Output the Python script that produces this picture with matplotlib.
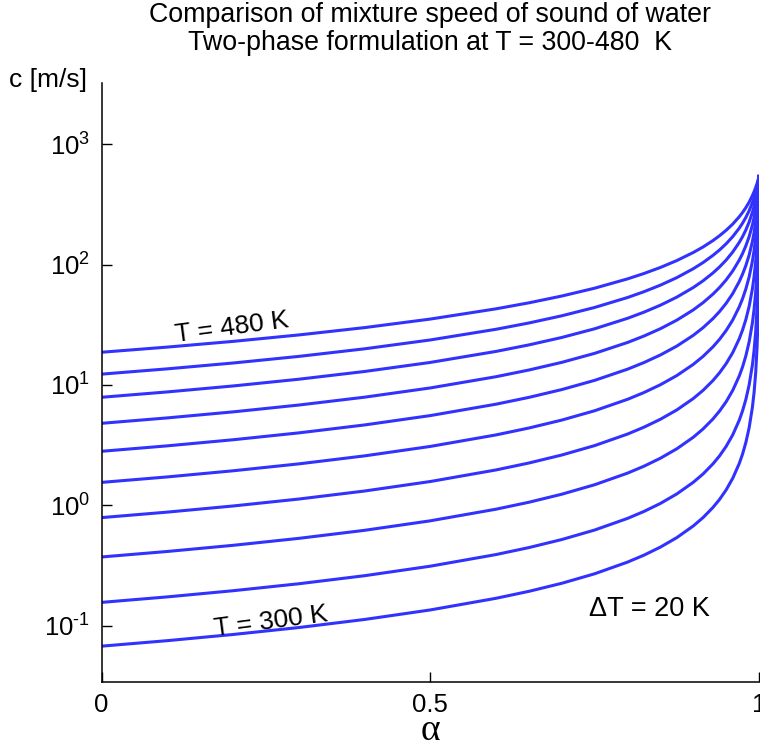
import matplotlib
matplotlib.use("Agg")
import matplotlib.pyplot as plt
from matplotlib.ticker import NullLocator, FixedLocator

plt.rcParams['font.family'] = ['Liberation Sans', 'DejaVu Sans']
plt.rcParams['mathtext.fontset'] = 'custom'
plt.rcParams['mathtext.rm'] = 'Liberation Sans'
plt.rcParams['mathtext.it'] = 'Liberation Sans:italic'

# void fraction alpha
alpha = [0, 0.1, 0.2, 0.3, 0.4, 0.5, 0.6, 0.65, 0.7, 0.75, 0.8, 0.825, 0.85, 0.875,
         0.9, 0.915, 0.93, 0.94, 0.95, 0.96, 0.97, 0.975, 0.98, 0.985, 0.99,
         0.9925, 0.995, 0.997, 0.998, 0.999, 1.0]

temperatures = [300, 320, 340, 360, 380, 400, 420, 440, 460, 480]

# mixture speed of sound c [m/s] for each temperature
c_300 = [0.0675, 0.0750, 0.0844, 0.0964, 0.1125, 0.135, 0.1687, 0.1927, 0.2248, 0.2697,
         0.3371, 0.3851, 0.4492, 0.5388, 0.673, 0.7914, 0.960, 1.119, 1.342, 1.675,
         2.227, 2.667, 3.324, 4.409, 6.55, 8.64, 12.72, 20.4, 29.4, 52.6, 540]
c_320 = [0.156, 0.1733, 0.1950, 0.2228, 0.2599, 0.3118, 0.3896, 0.4452, 0.5193, 0.6229,
         0.778, 0.8889, 1.036, 1.243, 1.552, 1.823, 2.211, 2.575, 3.084, 3.844,
         5.10, 6.10, 7.58, 10.00, 14.7, 19.3, 27.9, 43.7, 61.1, 102.7, 540]
c_340 = [0.372, 0.4133, 0.4648, 0.5311, 0.6194, 0.7430, 0.928, 1.060, 1.236, 1.482,
         1.850, 2.112, 2.461, 2.948, 3.674, 4.313, 5.219, 6.069, 7.251, 9.004,
         11.88, 14.13, 17.45, 22.79, 32.9, 42.3, 59.4, 88.3, 117.6, 180.7, 540]
c_360 = [0.79, 0.8775, 0.9868, 1.127, 1.314, 1.576, 1.967, 2.246, 2.617, 3.134,
         3.907, 4.457, 5.186, 6.201, 7.710, 9.028, 10.89, 12.63, 15.03, 18.55,
         24.23, 28.62, 34.97, 44.96, 63.1, 79.2, 106.9, 150.2, 190.6, 268.5, 540]
c_380 = [1.55, 1.721, 1.935, 2.209, 2.574, 3.084, 3.845, 4.387, 5.106, 6.106,
         7.595, 8.649, 10.04, 11.97, 14.82, 17.29, 20.75, 23.95, 28.32, 34.63,
         44.61, 52.14, 62.8, 79.0, 107.0, 130.5, 168.7, 223.7, 270.8, 350.9, 540]
c_400 = [2.81, 3.119, 3.504, 3.997, 4.652, 5.565, 6.922, 7.883, 9.155, 10.92,
         13.52, 15.35, 17.75, 21.04, 25.84, 29.95, 35.61, 40.76, 47.67, 57.43,
         72.4, 83.3, 98.2, 120.1, 155.9, 184.5, 228.4, 287.1, 333.7, 405.5, 540]
c_420 = [4.8, 5.324, 5.975, 6.809, 7.913, 9.445, 11.71, 13.31, 15.41, 18.31,
         22.54, 25.50, 29.34, 34.56, 42.04, 48.34, 56.90, 64.54, 74.61, 88.52,
         109.1, 123.7, 143.2, 170.8, 213.8, 246.3, 293.5, 351.7, 393.8, 451.9, 540]
c_440 = [7.9, 8.752, 9.809, 11.16, 12.94, 15.39, 19.00, 21.52, 24.81, 29.30,
         35.79, 40.26, 46.00, 53.69, 64.50, 73.43, 85.30, 95.70, 109.1, 127.2,
         153.1, 170.9, 194.1, 225.7, 272.5, 306.1, 352.0, 404.1, 438.8, 482.4, 540]
c_460 = [12.3, 13.61, 15.22, 17.27, 19.97, 23.66, 29.02, 32.74, 37.56, 44.05,
         53.28, 59.55, 67.51, 77.98, 92.43, 104.1, 119.4, 132.4, 149.0, 170.8,
         201.0, 221.2, 246.7, 280.4, 327.5, 359.6, 400.9, 444.2, 470.9, 502.3, 540]
c_480 = [18.7, 20.64, 23.02, 26.04, 29.96, 35.28, 42.92, 48.14, 54.83, 63.71,
         76.11, 84.37, 94.71, 108.1, 126.1, 140.3, 158.5, 173.9, 192.9, 217.2,
         250.0, 271.3, 297.4, 330.6, 374.9, 403.3, 438.1, 472.3, 492.3, 514.7, 540]

curves = [c_300, c_320, c_340, c_360, c_380, c_400, c_420, c_440, c_460, c_480]

fig = plt.figure(figsize=(7.6, 7.48), dpi=100)
W, H = 760, 748
ax_left, ax_right, ax_top, ax_bottom = 101.5, 759.0, 82.7, 681.7
ax = fig.add_axes([ax_left / W, 1 - ax_bottom / H,
                   (ax_right - ax_left) / W, (ax_bottom - ax_top) / H])

line_color = '#3232ff'
for T, c in zip(temperatures, curves):
    ax.plot(alpha, c, color=line_color, lw=2.2, solid_joinstyle='round')

ax.set_yscale('log')
ax.set_xlim(0, 1)
ax.set_ylim(0.0342, 3250)

ax.xaxis.set_major_locator(FixedLocator([0, 0.5, 1]))
ax.set_xticklabels(['0', '0.5', '1'])
ax.yaxis.set_major_locator(FixedLocator([0.1, 1, 10, 100, 1000]))
ax.yaxis.set_minor_locator(NullLocator())
ax.set_yticklabels(['$\\mathdefault{10^{\u20101}}$', r'$\mathdefault{10^{0}}$',
                    r'$\mathdefault{10^{1}}$', r'$\mathdefault{10^{2}}$',
                    r'$\mathdefault{10^{3}}$'])

for s in ['top', 'right']:
    ax.spines[s].set_visible(False)
for s in ['left', 'bottom']:
    ax.spines[s].set_linewidth(1.1)
    ax.spines[s].set_color('black')

ax.tick_params(axis='both', direction='in', length=7, width=1.0,
               labelsize=18.5, pad=8, colors='black')

fig.text(430 / W, 1 - 15 / H, 'Comparison of mixture speed of sound of water',
         ha='center', va='center', fontsize=19.3)
fig.text(430 / W, 1 - 43 / H, 'Two-phase formulation at T = 300-480  K',
         ha='center', va='center', fontsize=19.3)
fig.text(48 / W, 1 - 80 / H, 'c [m/s]', ha='center', va='center', fontsize=19)
fig.text(430 / W, 1 - 731 / H, '\u03b1', ha='center', va='center', fontsize=27,
         family=['Liberation Serif', 'DejaVu Serif'])

ax.text(0.2, 24, 'T = 480 K', rotation=7.5, ha='center', va='bottom',
        fontsize=19, rotation_mode='anchor')
ax.text(0.26, 0.086, 'T = 300 K', rotation=7.5, ha='center', va='bottom',
        fontsize=19, rotation_mode='anchor')
ax.text(0.833, 0.1377, '\u0394T = 20 K', ha='center', va='center', fontsize=19.5)

fig.savefig('out.png', dpi=100)
